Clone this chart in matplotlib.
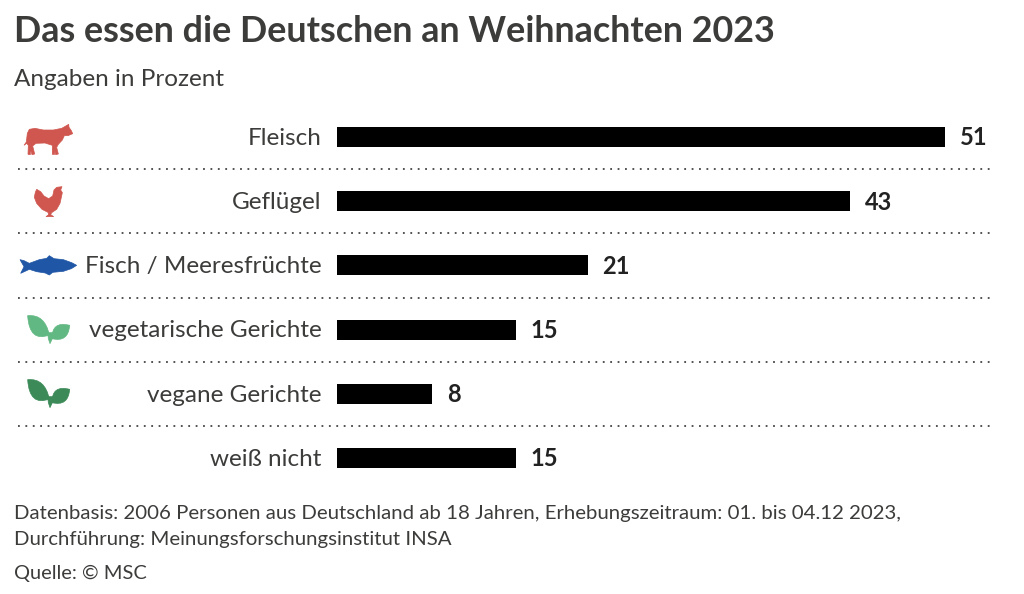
import matplotlib
matplotlib.use('Agg')
import matplotlib.pyplot as plt
from matplotlib.patches import Polygon, PathPatch
from matplotlib.path import Path

plt.rcParams['font.family'] = ['Lato', 'DejaVu Sans']

W, H = 1024, 594

title = 'Das essen die Deutschen an Weihnachten 2023'
subtitle = 'Angaben in Prozent'
categories = ['Fleisch', 'Geflügel', 'Fisch / Meeresfrüchte',
              'vegetarische Gerichte', 'vegane Gerichte', 'weiß nicht']
values = [51, 43, 21, 15, 8, 15]
notes = ['Datenbasis: 2006 Personen aus Deutschland ab 18 Jahren, Erhebungszeitraum: 01. bis 04.12 2023,',
         'Durchführung: Meinungsforschungsinstitut INSA']
source = 'Quelle: © MSC'

TEXT = '#3c3c3b'
RED = '#d0574f'
BLUE = '#1f56a5'
GREEN_L = '#62b882'
GREEN_D = '#3c8a58'

# icon outlines, in pixels of the 3x zoom crops (x, y), first crop starts at y=110
cow = [(72, 106), (79, 96), (82, 70), (88, 58), (105, 55), (130, 60), (160, 60), (185, 55), (194, 50),
       (206, 43), (207, 52), (214, 62), (218, 71), (204, 77), (193, 77), (187, 90), (175, 103), (170, 112),
       (175, 132), (167, 134), (163, 118), (164, 133), (157, 133), (157, 106), (135, 99), (108, 100),
       (98, 108), (104, 132), (96, 134), (91, 116), (91, 134), (84, 133), (85, 106), (80, 100)]
hen = [(103, 262), (106, 247), (110, 238), (122, 245), (132, 258), (146, 266), (158, 258), (162, 240),
       (170, 232), (186, 230), (182, 240), (187, 248), (184, 262), (180, 280), (170, 298), (155, 308),
       (152, 314), (161, 320), (138, 320), (146, 314), (144, 307), (126, 298), (110, 280)]
fish = [(60, 449), (72, 452), (88, 460), (118, 449), (140, 445), (148, 437), (162, 446), (190, 449), (215, 458),
        (230, 466), (214, 476), (190, 484), (158, 487), (148, 495), (136, 489), (110, 485), (88, 478),
        (62, 490), (72, 470)]


def leaf_path(pts):
    # start, control, corner, control, back to start
    xy = [pts[0], pts[1], pts[2], pts[3], pts[0]]
    return xy, [Path.MOVETO, Path.CURVE3, Path.CURVE3, Path.CURVE3, Path.CURVE3]


leaf_big = [(83, 77), (135, 72), (148, 135), (88, 158)]
leaf_small = [(209, 106), (155, 92), (156, 146), (205, 158)]
stem = [(143, 128), (158, 128), (157, 146), (150, 161), (145, 146)]

fig = plt.figure(figsize=(W / 100, H / 100), dpi=100, facecolor='white')

# axes from x=18 to x=990, 11.92 px per percent, zero at x=337
scale = 11.93
ax = fig.add_axes([18 / W, 1 - 490 / H, 972 / W, 385 / H])
ax.set_xlim((18 - 337) / scale, (990 - 337) / scale)
step = 64.2
ax.set_ylim(5 + (490 - 458) / step, -(137 - 105) / step)
ax.axis('off')

pos = list(range(len(categories)))
ax.barh(pos, values, height=20 / step, color='black')

for i, (cat, val) in enumerate(zip(categories, values)):
    ax.text(-15.5 / scale, i + 0.02, cat, ha='right', va='center', fontsize=17.5, color=TEXT)
    ax.text(val + 15 / scale, i + 0.015, str(val), ha='left', va='center', fontsize=17,
            fontweight='bold', color='#222222')
    if i < len(categories) - 1:
        ax.plot(ax.get_xlim(), [i + 0.5, i + 0.5], color='#444444', lw=1.3,
                linestyle=(0, (1, 3.1)))

# overlay in figure pixels for the icons
ov = fig.add_axes([0, 0, 1, 1])
ov.set_xlim(0, W)
ov.set_ylim(H, 0)
ov.axis('off')
ov.patch.set_alpha(0)


def icon(points, color, y0=110, dy=0):
    xy = [(x / 3, y0 + y / 3 + dy) for x, y in points]
    ov.add_patch(Polygon(xy, closed=True, facecolor=color, edgecolor=color, lw=0.5))


def leaf(points, color, y0=290, dy=0):
    xy, codes = leaf_path(points)
    xy = [(x / 3, y0 + y / 3 + dy) for x, y in xy]
    ov.add_patch(PathPatch(Path(xy, codes), facecolor=color, edgecolor=color, lw=0.5))


icon(cow, RED)
icon(hen, RED)
icon(fish, BLUE)
for dy, col in [(0, GREEN_L), (64, GREEN_D)]:
    leaf(leaf_big, col, dy=dy)
    leaf(leaf_small, col, dy=dy)
    icon(stem, col, 290, dy)

fig.text(14 / W, 1 - 32 / H, title, fontsize=25.8, fontweight='bold', color=TEXT, va='center')
fig.text(14 / W, 1 - 79 / H, subtitle, fontsize=17.5, color=TEXT, va='center')
fig.text(14 / W, 1 - 514 / H, notes[0], fontsize=14.7, color=TEXT, va='center')
fig.text(14 / W, 1 - 540 / H, notes[1], fontsize=14.7, color=TEXT, va='center')
fig.text(14 / W, 1 - 573 / H, source, fontsize=14.4, color=TEXT, va='center')

fig.savefig('out.png', dpi=100)
